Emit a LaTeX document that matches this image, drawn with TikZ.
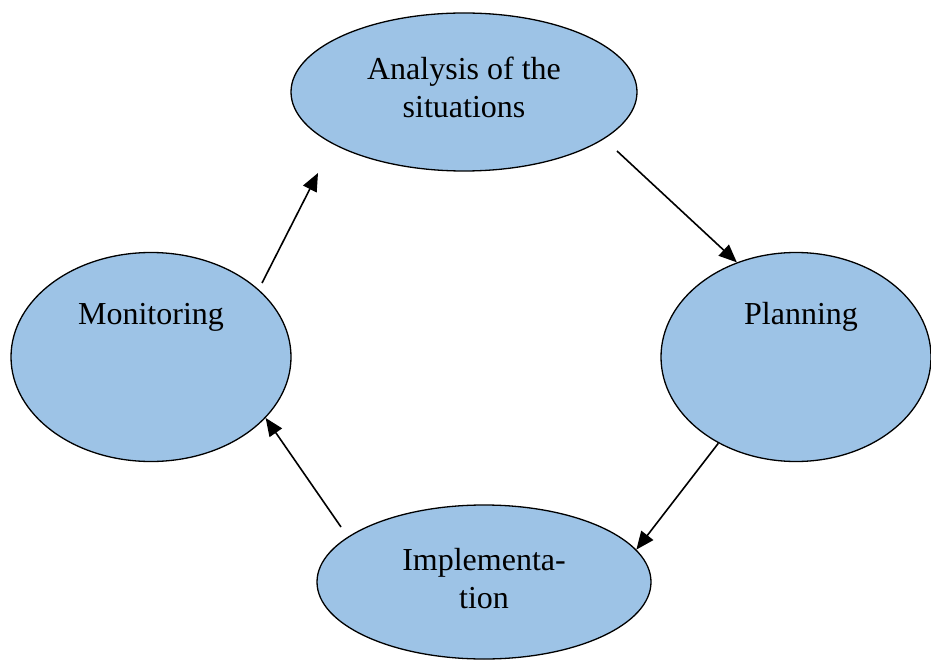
\documentclass[tikz,border=0pt]{standalone}
\usepackage{fontspec}
\setmainfont{Liberation Serif}
\usetikzlibrary{shapes.geometric,arrows.meta}
\definecolor{bubblefill}{RGB}{157,195,230}

\begin{document}
\begin{tikzpicture}[
    x=1pt, y=-1pt,
    every node/.style={anchor=center},
    bubble/.style={ellipse, draw=black, line width=1.3pt, fill=bubblefill, inner sep=0pt},
    caption/.style={align=center, font=\fontsize{32}{38}\selectfont},
    arrow/.style={-{Triangle[length=18pt,width=15pt]}, line width=1.6pt}
    ]
\useasboundingbox (0,0) rectangle (931,660);

% Stages of the cycle
\node[bubble, minimum width=346, minimum height=158] (Analysis) at (464,92) {};
\node[bubble, minimum width=280, minimum height=209] (Monitoring) at (151,357) {};
\node[bubble, minimum width=270, minimum height=209] (Planning) at (796,357) {};
\node[bubble, minimum width=334, minimum height=154] (Implementation) at (484,582) {};

% Texts
\node[caption] (Analysis Text) at (464,87) {Analysis of the\\situations};
\node[caption] (Monitoring Text) at (151,317) {Monitoring};
\node[caption] (Planning Text) at (801,317) {Planning};
\node[caption] (Implementation Text) at (484,579) {Implementa-\\tion};

% Free arrow ends
\coordinate (analysis out) at (617,151);
\coordinate (analysis in) at (318,173);
\coordinate (implementation out) at (341,527);
\coordinate (monitoring out) at (262,283);

% Arrows of the cycle
\draw[arrow] (analysis out) -- (Planning.122);
\draw[arrow] (Planning.228.6) -- (Implementation.12);
\draw[arrow] (implementation out) -- (Monitoring.-28.4);
\draw[arrow] (monitoring out) -- (analysis in);

\end{tikzpicture}
\end{document}
